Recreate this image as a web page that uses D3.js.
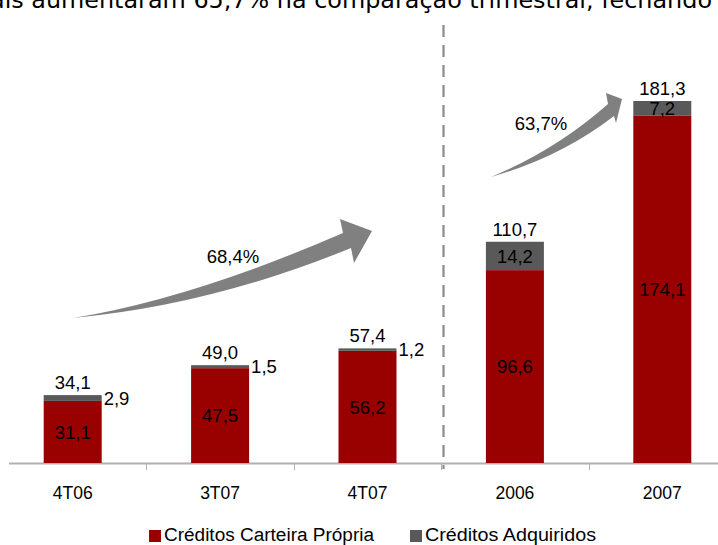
<!DOCTYPE html>
<html><head><meta charset="utf-8">
<script src="https://cdn.jsdelivr.net/npm/d3@7"></script>
<style>body{margin:0;background:#fff}svg{display:block}</style>
</head><body>
<script>
const categories = ["4T06","3T07","4T07","2006","2007"];
const carteiraPropria = [31.1, 47.5, 56.2, 96.6, 174.1];
const adquiridos = [2.9, 1.5, 1.2, 14.2, 7.2];
const totals = [34.1, 49.0, 57.4, 110.7, 181.3];
const growthLabels = ["68,4%", "63,7%"];
const seriesNames = ["Créditos Carteira Própria", "Créditos Adquiridos"];
const headline = "ais aumentaram 65,7% na comparação trimestral, fechando";

const W = 718, H = 545;
const colors = ["#990000", "#595959"];
const fmt = v => d3.format(".1f")(v).replace(".", ",");

const svg = d3.select("body").append("svg").attr("width", W).attr("height", H);

const x = d3.scaleBand().domain(categories).range([-1, 736]);
const y = d3.scaleLinear().domain([0, 181.3]).range([463, 101]);
const barW = 58;
const font = "'Liberation Sans', Arial, sans-serif";

// clipped headline text at top
svg.append("text").attr("x", 712).attr("y", 8).attr("text-anchor", "end")
  .attr("font-family", "'DejaVu Sans', sans-serif").attr("font-size", 23)
  .attr("textLength", 722).attr("lengthAdjust", "spacingAndGlyphs")
  .attr("fill", "#000").text(headline);

// axis
const axisG = svg.append("g");
axisG.append("line").attr("x1", 9).attr("x2", 718).attr("y1", 463.5).attr("y2", 463.5)
  .attr("stroke", "#b0b0b0").attr("stroke-width", 2);
categories.slice(1).forEach(c => {
  const xx = Math.round(x(c)) + 0.5;
  axisG.append("line").attr("x1", xx).attr("x2", xx).attr("y1", 463).attr("y2", 470)
    .attr("stroke", "#b0b0b0").attr("stroke-width", 1);
});

// dashed separator
svg.append("line").attr("x1", 443.5).attr("x2", 443.5).attr("y1", 25).attr("y2", 469)
  .attr("stroke", "#8a8a8a").attr("stroke-width", 2.2).attr("stroke-dasharray", "12,8");

// stacked bars
const stack = categories.map((c, i) => ({c, p: carteiraPropria[i], a: adquiridos[i], t: totals[i]}));
const g = svg.append("g");
stack.forEach(d => {
  const cx = x(d.c) + x.bandwidth() / 2;
  const x0 = cx - barW / 2;
  g.append("rect").attr("x", x0).attr("width", barW)
    .attr("y", y(d.p)).attr("height", y(0) - y(d.p)).attr("fill", colors[0]);
  g.append("rect").attr("x", x0).attr("width", barW)
    .attr("y", y(d.p + d.a)).attr("height", y(d.p) - y(d.p + d.a)).attr("fill", colors[1]);
  g.append("text").attr("x", cx).attr("y", (y(0) + y(d.p)) / 2).attr("dy", "0.36em")
    .attr("text-anchor", "middle").attr("font-family", font).attr("font-size", 18.5)
    .attr("fill", "#000").text(fmt(d.p));
  const gy = (y(d.p) + y(d.p + d.a)) / 2;
  if (d.a < 5) {
    g.append("text").attr("x", x0 + barW + 2).attr("y", gy).attr("dy", "0.36em")
      .attr("font-family", font).attr("font-size", 18.5).attr("fill", "#000").text(fmt(d.a));
  } else {
    g.append("text").attr("x", cx).attr("y", gy).attr("dy", "0.36em")
      .attr("text-anchor", "middle").attr("font-family", font).attr("font-size", 18.5)
      .attr("fill", "#000").text(fmt(d.a));
  }
  g.append("text").attr("x", cx).attr("y", y(d.t) - 6)
    .attr("text-anchor", "middle").attr("font-family", font).attr("font-size", 18.5)
    .attr("fill", "#000").text(fmt(d.t));
  svg.append("text").attr("x", cx).attr("y", 499).attr("text-anchor", "middle")
    .attr("font-family", font).attr("font-size", 17.5).attr("fill", "#000").text(d.c);
});

// curved growth arrows
function arrow(tail, topC, topEnd, botStart, botC, headA, tip, headB) {
  const p = d3.path();
  p.moveTo(...tail);
  p.quadraticCurveTo(...topC, ...topEnd);
  p.lineTo(...headA);
  p.lineTo(...tip);
  p.lineTo(...headB);
  p.lineTo(...botStart);
  p.quadraticCurveTo(...botC, ...tail);
  p.closePath();
  svg.append("path").attr("d", p.toString()).attr("fill", "#808080");
}
arrow([73, 318], [192, 298.5], [343, 233], [351, 248], [212, 305], [340, 219], [372, 231], [354, 263]);
arrow([491, 177], [556, 150], [608, 104], [614, 116], [561, 157], [606, 93], [622, 99], [616, 123]);

svg.append("text").attr("x", 233).attr("y", 263).attr("text-anchor", "middle")
  .attr("font-family", font).attr("font-size", 18.5).attr("fill", "#000").text(growthLabels[0]);
svg.append("text").attr("x", 541).attr("y", 130).attr("text-anchor", "middle")
  .attr("font-family", font).attr("font-size", 18.5).attr("fill", "#000").text(growthLabels[1]);

// legend
const leg = svg.append("g");
const legX = [149, 410];
const legW = [210, 171];
seriesNames.forEach((n, i) => {
  leg.append("rect").attr("x", legX[i]).attr("y", 530).attr("width", 12).attr("height", 12).attr("fill", colors[i]);
  leg.append("text").attr("x", legX[i] + 15).attr("y", 541).attr("font-family", font)
    .attr("font-size", 18).attr("textLength", legW[i]).attr("lengthAdjust", "spacingAndGlyphs")
    .attr("fill", "#000").text(n);
});
</script>
</body></html>
